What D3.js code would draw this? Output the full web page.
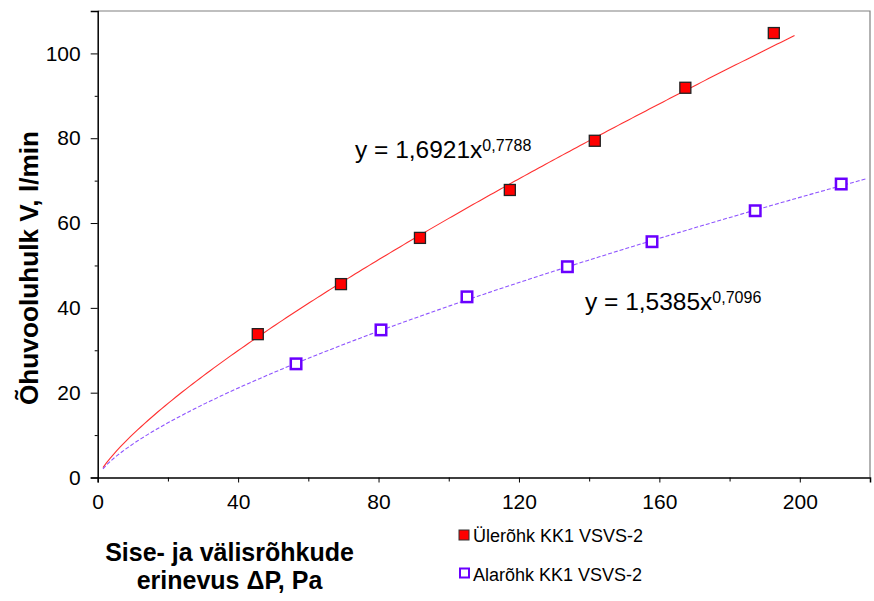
<!DOCTYPE html>
<html><head><meta charset="utf-8">
<script src="https://cdn.jsdelivr.net/npm/d3@7"></script>
<style>body{margin:0;background:#fff}svg{display:block;font-family:"Liberation Sans",Arial,sans-serif}</style>
</head><body><svg id="c" width="874" height="601"></svg>
<script>
const overX = [45.6, 69.3, 91.8, 117.4, 141.6, 167.4, 192.6];
const overY = [33.8, 45.6, 56.5, 67.8, 79.4, 91.9, 104.8];
const underX = [56.5, 80.7, 105.2, 133.8, 157.9, 187.3, 211.8];
const underY = [26.8, 34.8, 42.6, 49.7, 55.6, 62.9, 69.2];
const overFit = {a: 1.6921, b: 0.7788, from: 1.5, to: 198.5};
const underFit = {a: 1.5385, b: 0.7096, from: 1.5, to: 219};
const xTicks = [0, 40, 80, 120, 160, 200];
const yTicks = [0, 20, 40, 60, 80, 100];
const seriesNames = ["Ülerõhk KK1 VSVS-2", "Alarõhk KK1 VSVS-2"];

const svg = d3.select("#c");
const L = 97.7, R = 870, T = 11, B = 477.5;
const x = d3.scaleLinear().domain([0, 220]).range([L, R]);
const y = d3.scaleLinear().domain([0, 110]).range([B, T]);

// frame (gray top/right)
svg.append("path").attr("d", `M${L},${T}H${R}V${B}`).attr("fill","none").attr("stroke","#808080").attr("stroke-width",1.2);

// axes
const xAxis = d3.axisBottom(x).tickValues(xTicks).tickSize(5).tickPadding(12).tickFormat(d3.format("d"));
svg.append("g").attr("transform",`translate(0,${B})`).call(xAxis);
const yAxis = d3.axisLeft(y).tickValues(yTicks).tickSize(7).tickPadding(10).tickFormat(d3.format("d"));
svg.append("g").attr("transform",`translate(${L},0)`).call(yAxis);
// minor ticks
const xMinor = xTicks.slice(0,-1).map(d=>d+20);
svg.append("g").attr("transform",`translate(0,${B})`).call(d3.axisBottom(x).tickValues(xMinor).tickSize(4).tickFormat("")).select(".domain").remove();
const yMinor = yTicks.map(d=>d+10);
svg.append("g").attr("transform",`translate(${L},0)`).call(d3.axisLeft(y).tickValues(yMinor).tickSize(3).tickFormat("")).select(".domain").remove();
svg.selectAll(".domain").attr("stroke","#000").attr("stroke-width",1.5);
svg.selectAll(".tick line").attr("stroke","#000").attr("stroke-width",1);
svg.selectAll(".tick text").attr("font-family","Liberation Sans, Arial, sans-serif").attr("font-size",21).attr("fill","#000");

// trendlines
function fitPts(f){ const pts=[]; const n=200; for(let i=0;i<=n;i++){const xv=f.from+(f.to-f.from)*i/n; pts.push([xv,f.a*Math.pow(xv,f.b)]);} return pts; }
const line = d3.line().x(d=>x(d[0])).y(d=>y(d[1]));
svg.append("path").attr("d",line(fitPts(overFit))).attr("fill","none").attr("stroke","#ff3030").attr("stroke-width",1.1);
svg.append("path").attr("d",line(fitPts(underFit))).attr("fill","none").attr("stroke","#8f55ff").attr("stroke-width",1.1).attr("stroke-dasharray","4,2");

// markers
const s1 = 11;
svg.append("g").selectAll("rect").data(overX.map((d,i)=>[d,overY[i]])).join("rect")
 .attr("x",d=>x(d[0])-s1/2).attr("y",d=>y(d[1])-s1/2).attr("width",s1).attr("height",s1)
 .attr("fill","#ff0000").attr("stroke","#222").attr("stroke-width",1.3);
const s2 = 10.5;
svg.append("g").selectAll("rect").data(underX.map((d,i)=>[d,underY[i]])).join("rect")
 .attr("x",d=>x(d[0])-s2/2).attr("y",d=>y(d[1])-s2/2).attr("width",s2).attr("height",s2)
 .attr("fill","#fff").attr("stroke","#6a00ff").attr("stroke-width",2.5);

// equations
function eq(px,py,a,b){
  const t = svg.append("text").attr("x",px).attr("y",py).attr("font-size",24.5).attr("fill","#000");
  t.append("tspan").text("y = "+a+"x");
  t.append("tspan").attr("dy",-7).attr("font-size",16).text(b);
}
eq(355,158,"1,6921","0,7788");
eq(585,310,"1,5385","0,7096");

// axis titles
svg.append("text").attr("transform","translate(38,268) rotate(-90)").attr("text-anchor","middle")
 .attr("font-size",26.2).attr("font-weight","bold").text("Õhuvooluhulk V, l/min");
svg.append("text").attr("x",229.5).attr("y",560.5).attr("text-anchor","middle").attr("font-size",25).attr("font-weight","bold").text("Sise- ja välisrõhkude");
svg.append("text").attr("x",229.5).attr("y",589).attr("text-anchor","middle").attr("font-size",25).attr("font-weight","bold").text("erinevus ΔP, Pa");

// legend
const lg = svg.append("g");
lg.append("rect").attr("x",459).attr("y",530).attr("width",10).attr("height",10).attr("fill","#ff0000").attr("stroke","#333").attr("stroke-width",1);
lg.append("text").attr("x",473).attr("y",541.5).attr("font-size",18).text(seriesNames[0]);
lg.append("rect").attr("x",460).attr("y",568.5).attr("width",9).attr("height",9).attr("fill","#fff").attr("stroke","#6a00ff").attr("stroke-width",2);
lg.append("text").attr("x",473).attr("y",581).attr("font-size",18).text(seriesNames[1]);
</script></body></html>
